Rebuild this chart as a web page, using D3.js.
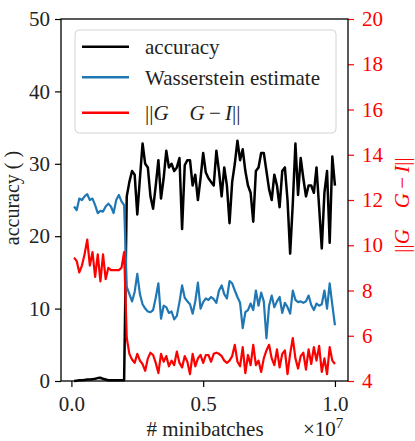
<!DOCTYPE html>
<html><head><meta charset="utf-8">
<script src="https://cdn.jsdelivr.net/npm/d3@7"></script>
<style>
body{margin:0;background:#fff}
svg{display:block}
</style>
</head><body>
<svg id="c" width="415" height="441"></svg>
<script>
// x positions (×10^7 minibatches)
const minibatches = d3.range(1, 101).map(i => i / 100);

const accuracy = [
  0.0, 0.05, 0.1, 0.1, 0.15, 0.2, 0.2, 0.25, 0.3, 0.4,
  0.45, 0.3, 0.2, 0.1, 0.1, 0.1, 0.1, 0.1, 0.1, 0.1,
  25.5, 27.5, 29.0, 28.5, 23.0, 28.0, 32.8, 30.0, 29.5, 25.5,
  23.8, 27.0, 30.5, 25.2, 28.0, 31.8, 29.5, 30.0, 29.0, 29.5,
  30.8, 21.0, 29.8, 30.5, 30.5, 27.0, 28.5, 25.0, 28.0, 31.5,
  28.8, 28.0, 27.5, 27.0, 31.8, 29.0, 25.5, 29.5, 27.0, 21.8,
  27.5, 30.0, 33.2, 30.5, 32.0, 29.0, 27.0, 26.0, 22.0, 29.0,
  29.5, 31.5, 31.5, 29.0, 26.5, 25.0, 28.5, 27.0, 24.0, 29.0,
  29.5, 25.0, 17.6, 24.5, 32.8, 25.7, 30.8, 28.0, 25.5, 27.0,
  27.0, 26.0, 29.5, 24.0, 18.3, 26.0, 29.0, 19.1, 31.0, 27.0
];

const wasserstein = [
  24.1, 23.6, 25.2, 25.0, 25.5, 25.8, 25.0, 25.2, 24.3, 23.2,
  23.5, 23.4, 24.1, 24.5, 24.1, 23.2, 25.0, 25.7, 24.8, 24.3,
  13.0, 12.0, 11.0, 12.3, 14.8, 12.0, 10.6, 10.0, 9.6, 9.5,
  9.8, 11.5, 13.5, 8.6, 10.4, 10.2, 9.4, 9.6, 8.5, 9.0,
  10.9, 13.2, 11.5, 11.0, 10.6, 9.3, 11.0, 13.6, 10.0, 10.9,
  11.4, 11.2, 11.6, 11.3, 10.8, 12.5, 13.2, 12.0, 11.4, 13.8,
  13.5, 12.5, 11.6, 10.8, 7.3, 9.5, 9.8, 10.7, 9.8, 12.5,
  10.4, 12.2, 11.0, 5.9, 10.4, 11.8, 10.2, 11.0, 11.6, 9.4,
  10.8, 10.2, 9.3, 12.5, 11.2, 10.9, 11.0, 10.8, 11.0, 11.8,
  10.5, 9.8, 10.7, 10.4, 10.6, 12.5, 10.0, 13.5, 10.5, 7.7
];

const gNorm = [
  9.45, 9.3, 8.8, 9.1, 9.6, 10.25, 9.1, 9.7, 8.6, 9.6,
  8.4, 9.6, 8.5, 9.0, 8.9, 8.9, 8.9, 8.9, 9.0, 9.7,
  5.9, 5.2, 4.95, 4.8, 5.2, 4.9, 4.75, 4.45, 5.0, 5.25,
  5.15, 4.8, 4.35, 5.2, 4.85, 5.1, 4.65, 4.9, 4.7, 5.3,
  4.8, 4.6, 5.1, 4.85, 4.3, 5.2, 4.65, 5.0, 5.15, 4.8,
  5.15, 5.15, 4.85, 5.2, 5.25, 5.2, 5.1, 4.9, 4.8, 4.9,
  5.1, 5.6, 4.85, 4.65, 5.5, 4.35, 5.15, 4.7, 5.6, 4.7,
  4.9, 4.4, 5.0, 5.35, 5.6, 5.0, 4.7, 5.4, 4.6, 5.2,
  5.35, 4.3, 5.2, 5.9, 5.0, 4.55, 5.1, 5.25, 4.5, 5.4,
  4.75, 5.5, 4.9, 5.55, 4.4, 5.0, 4.3, 5.5, 4.9, 4.75
];

const xTicks = [0.0, 0.5, 1.0];
const leftTicks = [0, 10, 20, 30, 40, 50];
const rightTicks = [4, 6, 8, 10, 12, 14, 16, 18, 20];
const seriesNames = ["accuracy", "Wasserstein estimate", "||G G−I||"];

const L = 61, R = 348, T = 19, B = 381;
const FS = 21;
const SERIF = "Liberation Serif";
const svg = d3.select("#c");

const x = d3.scaleLinear().domain([-0.0395, 1.0495]).range([L, R]);
const yL = d3.scaleLinear().domain([0, 50]).range([B, T]);
const yR = d3.scaleLinear().domain([4, 20]).range([B, T]);

const lineL = (vals) => d3.line().x((d, i) => x(minibatches[i])).y(d => yL(d))(vals);
const lineR = (vals) => d3.line().x((d, i) => x(minibatches[i])).y(d => yR(d))(vals);

const plot = svg.append("g");
plot.append("path").attr("d", lineL(accuracy)).attr("fill", "none")
  .attr("stroke", "#000").attr("stroke-width", 2.5).attr("stroke-linejoin", "round");
plot.append("path").attr("d", lineL(wasserstein)).attr("fill", "none")
  .attr("stroke", "#1f77b4").attr("stroke-width", 2.2).attr("stroke-linejoin", "round");
plot.append("path").attr("d", lineR(gNorm)).attr("fill", "none")
  .attr("stroke", "#ff0000").attr("stroke-width", 2.2).attr("stroke-linejoin", "round");

// axes
const ax = svg.append("g").attr("transform", `translate(0,${B})`)
  .call(d3.axisBottom(x).tickValues(xTicks).tickFormat(d3.format(".1f")).tickSize(6).tickPadding(9));
const ayL = svg.append("g").attr("transform", `translate(${L},0)`)
  .call(d3.axisLeft(yL).tickValues(leftTicks).tickSize(6).tickPadding(5));
const ayR = svg.append("g").attr("transform", `translate(${R},0)`)
  .call(d3.axisRight(yR).tickValues(rightTicks).tickSize(6).tickPadding(8));

[ax, ayL, ayR].forEach(g => {
  g.attr("font-family", null).attr("font-size", null);
  g.select(".domain").remove();
  g.selectAll("text").style("font-family", SERIF).style("font-size", FS + "px");
  g.selectAll("line").attr("stroke-width", 1.2);
});
ax.selectAll("text").attr("fill", "#222");
ayL.selectAll("text").attr("fill", "#222");
ayR.selectAll("line").attr("stroke", "#ff0000");
ayR.selectAll("text").attr("fill", "#ff0000");

// frame
svg.append("rect").attr("x", L).attr("y", T).attr("width", R - L).attr("height", B - T)
  .attr("fill", "none").attr("stroke", "#000").attr("stroke-width", 1.3);

function txt(parent) {
  return parent.append("text").style("font-family", SERIF).style("font-size", FS + "px");
}

// axis labels
txt(svg).attr("x", 205).attr("y", 436).attr("text-anchor", "middle")
  .attr("fill", "#222").text("# minibatches");
const mult = txt(svg).attr("x", 303).attr("y", 436).attr("fill", "#222");
mult.append("tspan").text("×10");
mult.append("tspan").attr("dy", -8).style("font-size", "15px").text("7");

txt(svg).attr("transform", "translate(19,198) rotate(-90)")
  .style("font-size", "20px")
  .attr("text-anchor", "middle").attr("fill", "#222").text("accuracy (  )");

function mathLabel(sel) {
  sel.append("tspan").text("||");
  sel.append("tspan").style("font-style", "italic").text("G");
  sel.append("tspan").text("\u2003");
  sel.append("tspan").style("font-style", "italic").text("G");
  sel.append("tspan").text("\u2009−\u2009");
  sel.append("tspan").style("font-style", "italic").text("I");
  sel.append("tspan").text("||");
}
const rl = txt(svg).attr("transform", "translate(409,205) rotate(-90)")
  .attr("text-anchor", "middle").attr("fill", "#ff0000");
mathLabel(rl);

// legend
const lg = svg.append("g");
lg.append("rect").attr("x", 75).attr("y", 30).attr("width", 261).attr("height", 103)
  .attr("rx", 4).attr("fill", "#fff").attr("fill-opacity", 0.85)
  .attr("stroke", "#d4d4d4").attr("stroke-width", 1);
const rows = [
  {y: 46.7, color: "#000"},
  {y: 77.3, color: "#1f77b4"},
  {y: 112.7, color: "#ff0000"}
];
rows.forEach((r, i) => {
  lg.append("line").attr("x1", 82).attr("x2", 129).attr("y1", r.y).attr("y2", r.y)
    .attr("stroke", r.color).attr("stroke-width", 2.5);
  const t = txt(lg).attr("x", 145).attr("y", r.y + 7.5).attr("fill", "#222");
  if (i < 2) t.text(seriesNames[i]); else mathLabel(t);
});
</script>
</body></html>
